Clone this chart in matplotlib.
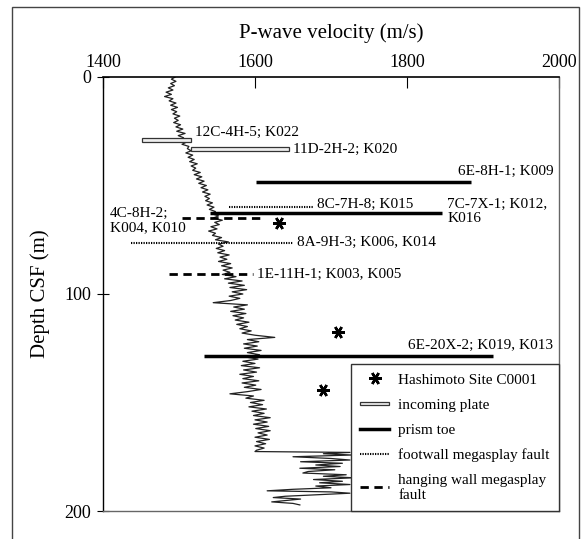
import numpy as np
import matplotlib.pyplot as plt
from matplotlib.lines import Line2D
from matplotlib.patches import Patch, Rectangle
from matplotlib.legend_handler import HandlerPatch

plt.rcParams['font.family'] = ['Liberation Serif', 'DejaVu Serif']

# P-wave log (depth CSF in m, velocity in m/s)
depth = [
    0, 1, 2, 3, 4, 5, 6, 7, 8, 9,
    10, 11, 12, 13, 14, 15, 16, 17, 18, 19,
    20, 21, 22, 23, 24, 25, 26, 27, 28, 29,
    30, 31, 32, 33, 34, 35, 36, 37, 38, 39,
    40, 41, 42, 43, 44, 45, 46, 47, 48, 49,
    50, 51, 52, 53, 54, 55, 56, 57, 58, 59,
    60, 61, 62, 63, 64, 65, 66, 67, 68, 69,
    70, 71, 72, 73, 74, 75, 76, 77, 78, 79,
    80, 81, 82, 83, 84, 85, 86, 87, 88, 89,
    90, 91, 92, 93, 94, 95, 96, 97, 98, 99,
    100, 101, 102, 103, 104, 105, 106, 107, 108, 109,
    110, 111, 112, 113, 114, 115, 116, 117, 118, 119,
    120, 121, 122, 123, 124, 125, 126, 127, 128, 129,
    130, 131, 132, 133, 134, 135, 136, 137, 138, 139,
    140, 141, 142, 143, 144, 145, 146, 147, 148, 149,
    150, 151, 152, 153, 154, 155, 156, 157, 158, 159,
    160, 161, 162, 163, 164, 165, 166, 167, 168, 169,
    170, 171, 172, 172.6,
    173.0, 173.6, 174.2, 175.0, 175.8, 176.5, 177.3, 178.0, 178.8, 179.5,
    180.3, 181.0, 181.8, 182.5, 183.3, 184.0, 184.7, 185.5, 186.3, 187.0,
    187.8, 188.5, 189.3, 190.0, 190.7, 191.2, 191.8, 192.5, 193.2, 193.8,
    194.5, 195.2, 195.8, 196.5, 197.2,
]
vp = [
    1495, 1490, 1496, 1489, 1494, 1486, 1492, 1483, 1490, 1481,
    1492, 1487, 1496, 1489, 1498, 1490, 1497, 1492, 1501, 1494,
    1499, 1493, 1502, 1496, 1505, 1497, 1508, 1499, 1506, 1502,
    1510, 1504, 1513, 1511, 1516, 1509, 1518, 1512, 1520, 1514,
    1524, 1516, 1522, 1518, 1528, 1520, 1530, 1523, 1533, 1526,
    1536, 1529, 1538, 1531, 1541, 1534, 1540, 1535, 1544, 1537,
    1546, 1540, 1548, 1543, 1552, 1545, 1557, 1547, 1553, 1542,
    1550, 1539, 1548, 1544, 1556, 1548, 1565, 1552, 1558, 1549,
    1560, 1551, 1566, 1554, 1563, 1552, 1568, 1556, 1570, 1558,
    1567, 1557, 1575, 1560, 1583, 1565, 1586, 1567, 1589, 1570,
    1584, 1566, 1580, 1568, 1545, 1590, 1572, 1586, 1568, 1588,
    1571, 1585, 1574, 1592, 1576, 1590, 1580, 1595, 1583, 1600,
    1626, 1590, 1605, 1585, 1603, 1586, 1608, 1590, 1606, 1587,
    1604, 1584, 1600, 1582, 1606, 1585, 1602, 1580, 1598, 1584,
    1605, 1583, 1601, 1586, 1608, 1590, 1567, 1598, 1588, 1612,
    1594, 1610, 1592, 1615, 1596, 1612, 1598, 1620, 1600, 1616,
    1598, 1618, 1601, 1620, 1604, 1616, 1600, 1619, 1602, 1614,
    1600, 1612, 1602, 1600,
    1725, 1690, 1728, 1650, 1700, 1725, 1660, 1715, 1680, 1712,
    1659, 1705, 1670, 1663, 1720, 1690, 1730, 1677, 1715, 1685,
    1725, 1680, 1700, 1650, 1616, 1700, 1725, 1681, 1640, 1624,
    1660, 1640, 1622, 1650, 1659,
]

# core samples: incoming plate
plate_labels = ["12C-4H-5; K022", "11D-2H-2; K020"]
plate_depth = [29.0, 33.2]
plate_vmin = [1451, 1516]
plate_vmax = [1516, 1645]

# prism toe
toe_labels = ["6E-8H-1; K009", "7C-7X-1; K012,\nK016", "6E-20X-2; K019, K013"]
toe_depth = [48.4, 62.7, 128.6]
toe_vmin = [1601, 1541, 1533]
toe_vmax = [1884, 1846, 1913]

# footwall megasplay fault
foot_labels = ["8C-7H-8; K015", "8A-9H-3; K006, K014"]
foot_depth = [59.9, 76.3]
foot_vmin = [1566, 1437]
foot_vmax = [1676, 1650]

# hanging wall megasplay fault
hang_labels = ["4C-8H-2;\nK004, K010", "1E-11H-1; K003, K005"]
hang_depth = [65.2, 90.8]
hang_vmin = [1504, 1487]
hang_vmax = [1607, 1597]

# Hashimoto, Site C0001
hashi_v = [1632, 1709, 1689]
hashi_d = [67.3, 117.5, 144.2]

W, H = 587, 539
fig = plt.figure(figsize=(W / 100, H / 100), dpi=100)
ax = fig.add_axes([103 / W, 1 - 511 / H, (559 - 103) / W, (511 - 77) / H])

# outer frame
fig.add_artist(Rectangle((12 / W, -0.05), (579 - 12) / W, 1.05 - 7 / H,
                         transform=fig.transFigure, fill=False,
                         edgecolor='#444444', lw=1.0, clip_on=False))

ax.plot(vp, depth, color='#222222', lw=0.9, zorder=2)

STAR = (6, 2, 90)

ax.barh(plate_depth, np.subtract(plate_vmax, plate_vmin), left=plate_vmin,
        height=1.5, facecolor='#eeeeee', edgecolor='#333333', lw=0.9, zorder=3)
ax.hlines(toe_depth, toe_vmin, toe_vmax, color='k', lw=2.5, zorder=3)
ax.hlines(foot_depth, foot_vmin, foot_vmax, color='k', lw=1.5,
          linestyles=[(0, (0.6, 0.6))], zorder=3)
ax.hlines(hang_depth, hang_vmin, hang_vmax, color='k', lw=2.0,
          linestyles=[(0, (3, 2))], zorder=3)
ax.plot(hashi_v, hashi_d, ls='none', marker=STAR, ms=9, mew=1.8, color='k', zorder=4)

fs = 11
kw = dict(fontsize=fs, va='center', ha='left', linespacing=1.1)
# labels placed relative to the end of each sample bar
for lab, v, d, (dx, dy) in zip(plate_labels, plate_vmax, plate_depth,
                              [(5, -3.6), (5, 0)]):
    ax.text(v + dx, d + dy, lab, **kw)
for lab, v, d, (dx, dy) in zip(toe_labels, toe_vmax, toe_depth,
                              [(-17, -5.1), (7, -0.6), (-112, -5.1)]):
    ax.text(v + dx, d + dy, lab, **kw)
for lab, v, d, (dx, dy) in zip(foot_labels, foot_vmax, foot_depth,
                              [(6, -1.4), (5, 0)]):
    ax.text(v + dx, d + dy, lab, **kw)
ax.text(hang_vmin[0] - 95, hang_depth[0] + 0.8, hang_labels[0], **kw)
ax.text(hang_vmax[1] + 6, hang_depth[1], hang_labels[1], **kw)

ax.set_xlim(1400, 2000)
ax.set_ylim(200, 0)
ax.set_xticks([1400, 1600, 1800, 2000])
ax.set_yticks([0, 100, 200])
ax.xaxis.tick_top()
ax.xaxis.set_label_position('top')
ax.tick_params(axis='x', direction='in', length=8, labelsize=13, pad=4,
               top=True, bottom=False)
ax.tick_params(axis='y', direction='inout', length=9, labelsize=13, pad=4)
ax.set_xlabel('P-wave velocity (m/s)', fontsize=15, labelpad=12)
ax.set_ylabel('Depth CSF (m)', fontsize=15, labelpad=10)

ax.spines['top'].set_linewidth(1.2)
ax.spines['left'].set_linewidth(1.0)
for s in ('bottom', 'right'):
    ax.spines[s].set_color('#666666')
    ax.spines[s].set_linewidth(1.0)


def thin_bar(legend, orig_handle, xdescent, ydescent, width, height, fontsize):
    return Rectangle((-xdescent, -ydescent + height * 0.36), width, height * 0.28)


handles = [
    Line2D([], [], ls='none', marker=STAR, ms=9, mew=1.8, color='k'),
    Patch(facecolor='#eeeeee', edgecolor='#333333', lw=0.9),
    Line2D([], [], color='k', lw=2.5),
    Line2D([], [], color='k', lw=1.5, ls=(0, (0.6, 0.6))),
    Line2D([], [], color='k', lw=2.0, ls=(0, (3, 2))),
]
labels = ['Hashimoto Site C0001', 'incoming plate', 'prism toe',
          'footwall megasplay fault', 'hanging wall megasplay\nfault']
leg = ax.legend(handles, labels, loc='lower right', bbox_to_anchor=(1, 0),
                borderaxespad=0, fancybox=False, framealpha=1,
                edgecolor='#333333', fontsize=fs, handlelength=1.9,
                handletextpad=0.6, labelspacing=0.75, borderpad=0.6,
                handler_map={Patch: HandlerPatch(patch_func=thin_bar)})
leg.get_frame().set_linewidth(1.0)
leg.set_zorder(10)

fig.savefig('out.png', dpi=100)
